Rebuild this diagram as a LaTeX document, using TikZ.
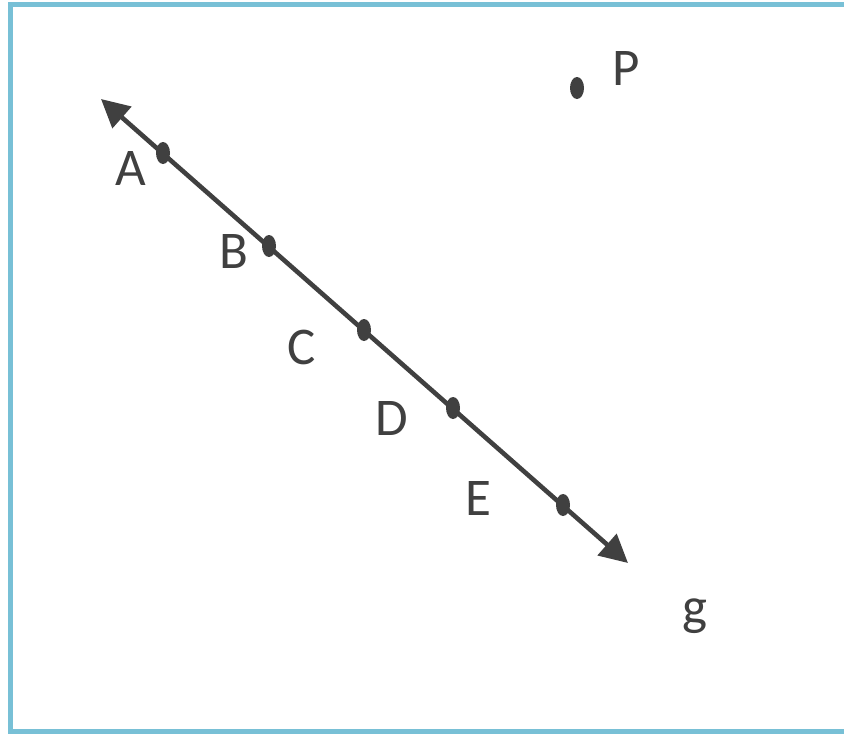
\documentclass[tikz,border=0pt]{standalone}
\usepackage{fontspec}
\setmainfont{Carlito}
\usepackage{xcolor}
\usetikzlibrary{arrows.meta,shapes.geometric}
\definecolor{ink}{HTML}{404040}
\definecolor{frame}{HTML}{78C0D6}
\begin{document}
\begin{tikzpicture}[x=0.5pt,y=-0.5pt,>={Triangle[length=14pt,width=14pt]},every node/.style={font=\fontsize{26.5}{30}\selectfont,text=ink}]
\tikzstyle{pt}=[ellipse,fill=ink,inner sep=0pt,minimum width=7pt,minimum height=11pt]
\tikzstyle{lbl}=[inner sep=0pt]
\useasboundingbox (0,0) rectangle (844,734);
% frame, open on the right
\draw[frame,line width=2.5pt] (844,4.5) -- (10.5,4.5) -- (10.5,731.5) -- (844,731.5);
% the line g
\coordinate (g1) at (101,99);
\coordinate (g2) at (628,563);
\draw[ink,line width=2.3pt,<->] (g1) -- (g2);
\node[pt] (A) at (163,153) {};
\node[pt] (B) at (269,246) {};
\node[pt] (C) at (364,330) {};
\node[pt] (D) at (453,408) {};
\node[pt] (E) at (563,505) {};
\node[pt] (P) at (577,88) {};
\node[lbl] (la) at (131,168) {A};
\node[lbl] (lb) at (234,251) {B};
\node[lbl] (lc) at (302,347) {C};
\node[lbl] (ld) at (392,418) {D};
\node[lbl] (le) at (478,498) {E};
\node[lbl] (lp) at (626,68) {P};
\node[lbl] (lg) at (695,616) {g};
\end{tikzpicture}
\end{document}
